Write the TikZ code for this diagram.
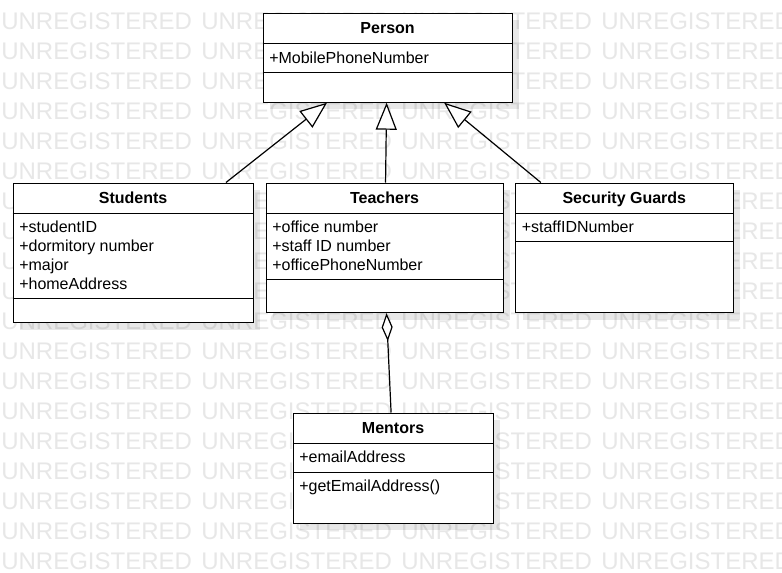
\documentclass[tikz,border=0pt]{standalone}
\usepackage{fontspec}
\setmainfont{Liberation Sans}
\usetikzlibrary{calc,arrows.meta,shadows}
\definecolor{wm}{gray}{0.905}
\tikzset{
 cls/.style={draw=black, line width=0.9pt, fill=white, inner sep=0pt, anchor=north west,
   drop shadow={shadow xshift=5.25pt, shadow yshift=-5.25pt, fill=black, opacity=0.09}},
 ttl/.style={font=\fontsize{12}{14}\selectfont\bfseries, anchor=base, inner sep=0pt},
 attr/.style={font=\fontsize{12}{14}\selectfont, anchor=base west, inner sep=0pt},
 divl/.style={line width=0.9pt},
 gen/.style={line width=0.9pt, -{Triangle[length=20.25pt, width=15.75pt, fill=white]}},
 agg/.style={line width=0.9pt, {Diamond[length=21pt, width=8.25pt, fill=white]}-},
 wmark/.style={font=\fontsize{18}{20}\selectfont, text=wm, anchor=base west, inner sep=0pt},
}
\begin{document}
\begin{tikzpicture}[x=0.75pt, y=-0.75pt]
\path[fill=white] (0,0) rectangle (782,572);
\useasboundingbox (0,0) rectangle (782,572);
% watermark
\foreach \r in {0,...,18}{
  \foreach \c in {0,...,3}{
    \node[wmark] (wm-\r-\c) at ({1+200*\c},{29+30*\r}) {UNREGISTERED};
  }
}
% classes
\node[cls, minimum width=186.75pt, minimum height=66.75pt] (person) at (262.5,12.5) {};
\node[cls, minimum width=180pt, minimum height=104.625pt] (students) at (12.5,182.5) {};
\node[cls, minimum width=177.75pt, minimum height=97.125pt] (teachers) at (265.5,182.5) {};
\node[cls, minimum width=163.125pt, minimum height=97.125pt] (guards) at (515,182.5) {};
\node[cls, minimum width=150pt, minimum height=82.5pt] (mentors) at (292.5,412.5) {};
% dividers
\draw[divl] ($(person.north west)+(0,31)$) -- ($(person.north east)+(0,31)$);
\draw[divl] ($(person.north west)+(0,60)$) -- ($(person.north east)+(0,60)$);
\draw[divl] ($(students.north west)+(0,31)$) -- ($(students.north east)+(0,31)$);
\draw[divl] ($(students.north west)+(0,116)$) -- ($(students.north east)+(0,116)$);
\draw[divl] ($(teachers.north west)+(0,31)$) -- ($(teachers.north east)+(0,31)$);
\draw[divl] ($(teachers.north west)+(0,97)$) -- ($(teachers.north east)+(0,97)$);
\draw[divl] ($(guards.north west)+(0,31)$) -- ($(guards.north east)+(0,31)$);
\draw[divl] ($(guards.north west)+(0,59)$) -- ($(guards.north east)+(0,59)$);
\draw[divl] ($(mentors.north west)+(0,31)$) -- ($(mentors.north east)+(0,31)$);
\draw[divl] ($(mentors.north west)+(0,60)$) -- ($(mentors.north east)+(0,60)$);
% titles
\node[ttl] (person-t) at ($(person.north)+(0,21)$) {Person};
\node[ttl] (students-t) at ($(students.north)+(0,21)$) {Students};
\node[ttl] (teachers-t) at ($(teachers.north)+(0,21)$) {Teachers};
\node[ttl] (guards-t) at ($(guards.north)+(0,21)$) {Security Guards};
\node[ttl] (mentors-t) at ($(mentors.north)+(0,21)$) {Mentors};
% attributes
\node[attr] (person-a1) at ($(person.north west)+(6.5,50.5)$) {+MobilePhoneNumber};
\node[attr] (students-a1) at ($(students.north west)+(6.5,49.5)$) {+studentID};
\node[attr] (students-a2) at ($(students.north west)+(6.5,68.5)$) {+dormitory number};
\node[attr] (students-a3) at ($(students.north west)+(6.5,87.5)$) {+major};
\node[attr] (students-a4) at ($(students.north west)+(6.5,106.5)$) {+homeAddress};
\node[attr] (teachers-a1) at ($(teachers.north west)+(6.5,49.5)$) {+office number};
\node[attr] (teachers-a2) at ($(teachers.north west)+(6.5,68.5)$) {+staff ID number};
\node[attr] (teachers-a3) at ($(teachers.north west)+(6.5,87.5)$) {+officePhoneNumber};
\node[attr] (guards-a1) at ($(guards.north west)+(6.5,49.5)$) {+staffIDNumber};
\node[attr] (mentors-a1) at ($(mentors.north west)+(6.5,50)$) {+emailAddress};
\node[attr] (mentors-m1) at ($(mentors.north west)+(6.5,79)$) {+getEmailAddress()};
% connectors
\draw[gen] ($(students.north west)!0.885!(students.north east)$) -- ($(person.south west)!0.258!(person.south east)$);
\draw[gen] ($(teachers.north west)!0.504!(teachers.north east)$) -- ($(person.south west)!0.496!(person.south east)$);
\draw[gen] ($(guards.north west)!0.118!(guards.north east)$) -- ($(person.south west)!0.726!(person.south east)$);
\draw[agg] ($(teachers.south west)!0.508!(teachers.south east)$) -- ($(mentors.north west)!0.49!(mentors.north east)$);
\end{tikzpicture}
\end{document}
